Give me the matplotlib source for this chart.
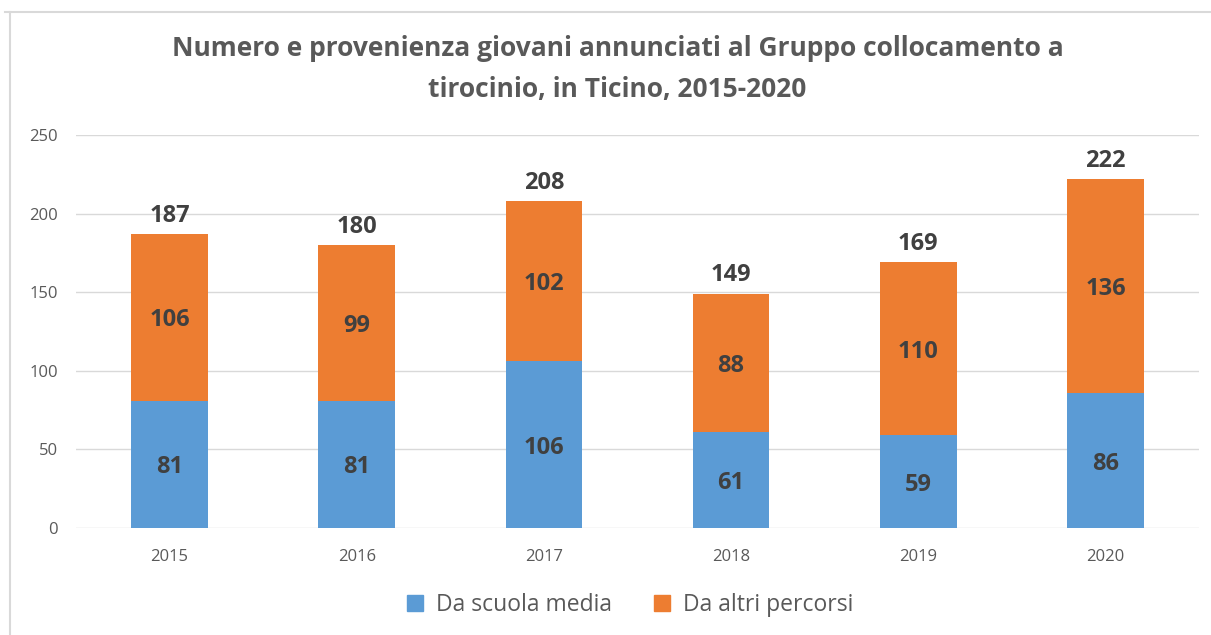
import numpy as np
import matplotlib.pyplot as plt
from matplotlib.lines import Line2D

# --- data ---
years = ["2015", "2016", "2017", "2018", "2019", "2020"]
scuola_media = [81, 81, 106, 61, 59, 86]
altri_percorsi = [106, 99, 102, 88, 110, 136]
totals = [187, 180, 208, 149, 169, 222]

blue = "#5B9BD5"
orange = "#ED7D31"
label_col = "#404040"
tick_col = "#595959"

plt.rcParams['font.family'] = ['Open Sans', 'DejaVu Sans']

fig = plt.figure(figsize=(12.11, 6.35), dpi=100)
ax = fig.add_axes([76 / 1211, 1 - 528 / 635, (1199 - 76) / 1211, (528 - 135) / 635])

x = np.arange(len(years))
w = 0.41
ax.bar(x, scuola_media, w, color=blue, label="Da scuola media", zorder=3)
ax.bar(x, altri_percorsi, w, bottom=scuola_media, color=orange,
       label="Da altri percorsi", zorder=3)

# data labels
for i in range(len(years)):
    ax.text(x[i], scuola_media[i] / 2 - 2, str(scuola_media[i]), ha="center", va="center",
            fontsize=17, fontweight="bold", color=label_col, zorder=4)
    ax.text(x[i], scuola_media[i] + altri_percorsi[i] / 2 - 2, str(altri_percorsi[i]),
            ha="center", va="center", fontsize=17, fontweight="bold", color=label_col, zorder=4)
    ax.text(x[i], totals[i] + 4, str(totals[i]), ha="center", va="bottom",
            fontsize=17, fontweight="bold", color=label_col, zorder=4)

ax.set_xlim(-0.5, len(years) - 0.5)
ax.set_ylim(0, 250)
ax.set_yticks(np.arange(0, 251, 50))
ax.set_xticks(x)
ax.set_xticklabels(years)
ax.grid(axis="y", color="#D9D9D9", linewidth=1, zorder=0)
for s in ax.spines.values():
    s.set_visible(False)
ax.tick_params(axis="both", length=0, colors=tick_col, labelsize=12)
ax.tick_params(axis="y", pad=13)
ax.tick_params(axis="x", pad=15)

fig.text(0.51, 1 - 69 / 635,
         "Numero e provenienza giovani annunciati al Gruppo collocamento a\ntirocinio, in Ticino, 2015-2020",
         ha="center", va="center", fontsize=19, fontweight="bold", color=tick_col,
         linespacing=1.65)

handles = [Line2D([], [], marker="s", linestyle="none", markersize=12, color=blue),
           Line2D([], [], marker="s", linestyle="none", markersize=12, color=orange)]
fig.legend(handles, ["Da scuola media", "Da altri percorsi"], loc="center",
           bbox_to_anchor=(0.514, 1 - 605 / 635), ncol=2, frameon=False,
           fontsize=16.5, labelcolor=tick_col, handletextpad=-0.1, columnspacing=1.2)

# chart border
fig.add_artist(Line2D([5 / 1211, 1], [1 - 12 / 635] * 2, color="#D9D9D9", lw=1.5))
fig.add_artist(Line2D([10 / 1211] * 2, [0, 1 - 12 / 635], color="#D9D9D9", lw=1.5))

fig.savefig("out.png", dpi=100)
